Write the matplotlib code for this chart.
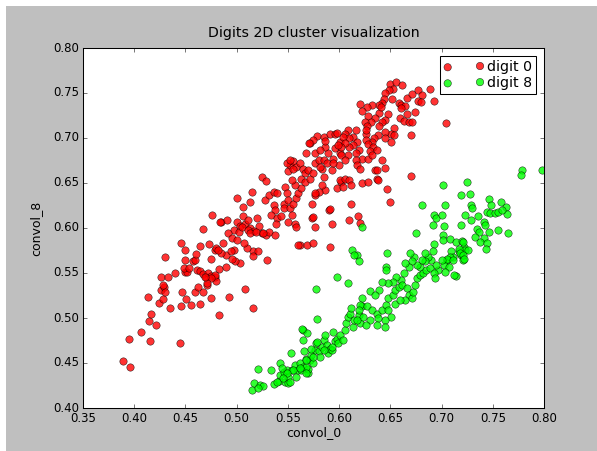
import matplotlib
matplotlib.use("Agg")
import matplotlib.pyplot as plt
from matplotlib.patches import Rectangle
from matplotlib.ticker import MultipleLocator, FormatStrFormatter

# digit 0 cluster (convol_0, convol_8)
red_x = [0.389, 0.396, 0.395, 0.415, 0.445, 0.407, 0.414, 0.421, 0.416, 0.413, 0.424, 0.428, 0.426, 0.429,
         0.430, 0.428, 0.435, 0.446, 0.455, 0.451, 0.464, 0.447, 0.459, 0.462, 0.467, 0.475, 0.483, 0.493,
         0.426, 0.433, 0.440, 0.430, 0.450, 0.452, 0.449, 0.453, 0.450, 0.457, 0.459, 0.460, 0.461, 0.464,
         0.467, 0.470, 0.472, 0.475, 0.479, 0.480, 0.471, 0.483, 0.475, 0.446, 0.450, 0.464, 0.467, 0.476,
         0.485, 0.491, 0.473, 0.479, 0.500, 0.525, 0.529, 0.515, 0.513, 0.506, 0.497, 0.500, 0.503, 0.506,
         0.508, 0.511, 0.513, 0.517, 0.520, 0.522, 0.525, 0.529, 0.532, 0.537, 0.528, 0.532, 0.536, 0.539,
         0.536, 0.537, 0.534, 0.539, 0.538, 0.543, 0.546, 0.546, 0.547, 0.549, 0.550, 0.552, 0.554, 0.550,
         0.557, 0.558, 0.555, 0.558, 0.560, 0.563, 0.557, 0.554, 0.550, 0.552, 0.555, 0.558, 0.562, 0.565,
         0.567, 0.563, 0.570, 0.567, 0.572, 0.575, 0.576, 0.580, 0.568, 0.576, 0.583, 0.585, 0.588, 0.593,
         0.594, 0.589, 0.596, 0.586, 0.581, 0.572, 0.578, 0.575, 0.585, 0.586, 0.591, 0.596, 0.601, 0.601,
         0.602, 0.598, 0.586, 0.583, 0.580, 0.576, 0.574, 0.590, 0.574, 0.576, 0.593, 0.562, 0.569, 0.575,
         0.591, 0.549, 0.650, 0.656, 0.661, 0.653, 0.649, 0.645, 0.644, 0.642, 0.639, 0.632, 0.627, 0.620,
         0.622, 0.652, 0.658, 0.660, 0.664, 0.666, 0.671, 0.677, 0.681, 0.677, 0.680, 0.689, 0.693, 0.704,
         0.674, 0.666, 0.660, 0.659, 0.663, 0.668, 0.671, 0.670, 0.670, 0.648, 0.645, 0.642, 0.639, 0.641,
         0.635, 0.628, 0.631, 0.625, 0.627, 0.639, 0.654, 0.651, 0.645, 0.638, 0.634, 0.632, 0.626, 0.626,
         0.616, 0.609, 0.606, 0.614, 0.610, 0.604, 0.598, 0.617, 0.614, 0.610, 0.606, 0.602, 0.599, 0.619,
         0.616, 0.609, 0.602, 0.626, 0.628, 0.633, 0.630, 0.637, 0.622, 0.616, 0.617, 0.620, 0.600, 0.606,
         0.628, 0.632, 0.642, 0.645, 0.635, 0.651, 0.654, 0.645, 0.601, 0.606, 0.610, 0.612, 0.604, 0.622,
         0.628, 0.637, 0.647, 0.581, 0.585, 0.594, 0.637, 0.638, 0.650, 0.612, 0.591, 0.575, 0.610, 0.618,
         0.620, 0.576, 0.484, 0.508, 0.516, 0.530, 0.516, 0.521, 0.510, 0.507, 0.516, 0.503, 0.498, 0.495,
         0.490, 0.490, 0.485, 0.480, 0.479, 0.475, 0.471, 0.469, 0.492, 0.495, 0.500, 0.502, 0.505, 0.511,
         0.513, 0.519, 0.526, 0.497, 0.494, 0.487, 0.482, 0.560, 0.571, 0.552, 0.555]
red_y = [0.452, 0.446, 0.477, 0.474, 0.472, 0.485, 0.497, 0.492, 0.504, 0.523, 0.517, 0.521, 0.531, 0.535,
         0.529, 0.537, 0.511, 0.513, 0.514, 0.521, 0.516, 0.529, 0.529, 0.534, 0.529, 0.522, 0.503, 0.523,
         0.545, 0.545, 0.550, 0.568, 0.551, 0.551, 0.556, 0.555, 0.564, 0.563, 0.564, 0.571, 0.553, 0.552,
         0.549, 0.545, 0.550, 0.547, 0.546, 0.541, 0.537, 0.554, 0.566, 0.583, 0.576, 0.580, 0.599, 0.614,
         0.607, 0.609, 0.582, 0.576, 0.633, 0.657, 0.652, 0.640, 0.629, 0.623, 0.598, 0.607, 0.602, 0.613,
         0.605, 0.609, 0.600, 0.597, 0.611, 0.602, 0.595, 0.592, 0.596, 0.592, 0.631, 0.637, 0.640, 0.639,
         0.626, 0.620, 0.614, 0.611, 0.605, 0.613, 0.627, 0.622, 0.646, 0.639, 0.631, 0.622, 0.614, 0.607,
         0.605, 0.601, 0.627, 0.633, 0.639, 0.644, 0.648, 0.653, 0.663, 0.670, 0.674, 0.668, 0.672, 0.666,
         0.661, 0.655, 0.664, 0.651, 0.655, 0.661, 0.672, 0.676, 0.683, 0.683, 0.666, 0.676, 0.672, 0.664,
         0.677, 0.683, 0.689, 0.690, 0.687, 0.694, 0.702, 0.698, 0.701, 0.697, 0.705, 0.705, 0.696, 0.683,
         0.651, 0.644, 0.642, 0.648, 0.640, 0.637, 0.627, 0.620, 0.611, 0.601, 0.604, 0.581, 0.581, 0.583,
         0.579, 0.672, 0.760, 0.762, 0.759, 0.754, 0.753, 0.750, 0.743, 0.739, 0.737, 0.737, 0.735, 0.738,
         0.730, 0.743, 0.739, 0.737, 0.736, 0.744, 0.749, 0.753, 0.748, 0.741, 0.740, 0.754, 0.741, 0.717,
         0.729, 0.727, 0.733, 0.722, 0.719, 0.718, 0.718, 0.703, 0.658, 0.727, 0.720, 0.718, 0.728, 0.735,
         0.722, 0.724, 0.718, 0.718, 0.713, 0.713, 0.711, 0.705, 0.707, 0.703, 0.700, 0.696, 0.705, 0.709,
         0.709, 0.709, 0.705, 0.701, 0.700, 0.701, 0.706, 0.696, 0.692, 0.690, 0.694, 0.690, 0.692, 0.687,
         0.683, 0.681, 0.681, 0.698, 0.693, 0.690, 0.686, 0.687, 0.677, 0.676, 0.670, 0.666, 0.670, 0.676,
         0.677, 0.681, 0.676, 0.667, 0.664, 0.696, 0.703, 0.700, 0.653, 0.655, 0.653, 0.648, 0.646, 0.650,
         0.651, 0.654, 0.643, 0.668, 0.657, 0.672, 0.664, 0.653, 0.629, 0.627, 0.621, 0.612, 0.609, 0.613,
         0.606, 0.639, 0.607, 0.532, 0.511, 0.564, 0.575, 0.575, 0.578, 0.583, 0.569, 0.561, 0.563, 0.566,
         0.557, 0.570, 0.572, 0.578, 0.548, 0.544, 0.539, 0.546, 0.594, 0.589, 0.587, 0.596, 0.601, 0.598,
         0.594, 0.596, 0.594, 0.576, 0.574, 0.583, 0.576, 0.581, 0.694, 0.676, 0.666]

# digit 8 cluster
green_x = [0.515, 0.517, 0.523, 0.526, 0.521, 0.521, 0.534, 0.536, 0.541, 0.542, 0.542, 0.546, 0.547, 0.550,
           0.550, 0.549, 0.554, 0.553, 0.557, 0.558, 0.560, 0.562, 0.565, 0.566, 0.568, 0.570, 0.570, 0.572,
           0.573, 0.575, 0.576, 0.577, 0.580, 0.581, 0.583, 0.585, 0.586, 0.588, 0.589, 0.591, 0.593, 0.594,
           0.596, 0.598, 0.599, 0.601, 0.604, 0.606, 0.607, 0.609, 0.611, 0.612, 0.614, 0.615, 0.619, 0.620,
           0.622, 0.622, 0.565, 0.569, 0.565, 0.578, 0.544, 0.564, 0.573, 0.578, 0.575, 0.568, 0.563, 0.555,
           0.549, 0.545, 0.552, 0.539, 0.568, 0.568, 0.562, 0.622, 0.693, 0.695, 0.692, 0.702, 0.675, 0.701,
           0.701, 0.708, 0.693, 0.714, 0.720, 0.722, 0.717, 0.647, 0.646, 0.617, 0.619, 0.692, 0.714, 0.709,
           0.711, 0.719, 0.721, 0.723, 0.705, 0.702, 0.707, 0.703, 0.697, 0.695, 0.690, 0.687, 0.684, 0.684,
           0.681, 0.679, 0.676, 0.673, 0.669, 0.671, 0.668, 0.664, 0.663, 0.660, 0.656, 0.653, 0.648, 0.642,
           0.639, 0.630, 0.635, 0.620, 0.627, 0.632, 0.637, 0.642, 0.646, 0.648, 0.653, 0.655, 0.658, 0.661,
           0.666, 0.668, 0.664, 0.671, 0.672, 0.674, 0.676, 0.679, 0.682, 0.685, 0.689, 0.693, 0.694, 0.655,
           0.659, 0.648, 0.651, 0.645, 0.638, 0.630, 0.623, 0.619, 0.626, 0.617, 0.637, 0.645, 0.779, 0.778,
           0.798, 0.701, 0.725, 0.719, 0.728, 0.703, 0.729, 0.730, 0.723, 0.729, 0.736, 0.746, 0.748, 0.758,
           0.763, 0.764, 0.744, 0.747, 0.752, 0.755, 0.759, 0.700, 0.719, 0.741, 0.742, 0.735, 0.737, 0.746,
           0.755, 0.741, 0.733, 0.738, 0.744, 0.743, 0.765, 0.721, 0.717, 0.726, 0.718, 0.721, 0.708, 0.705,
           0.700, 0.711, 0.722, 0.681, 0.613, 0.615, 0.598, 0.609, 0.577, 0.646, 0.712, 0.585, 0.593]
green_y = [0.420, 0.428, 0.426, 0.424, 0.422, 0.443, 0.442, 0.427, 0.430, 0.437, 0.450, 0.440, 0.429, 0.428,
           0.434, 0.442, 0.442, 0.461, 0.448, 0.434, 0.442, 0.450, 0.446, 0.463, 0.454, 0.439, 0.443, 0.453,
           0.459, 0.450, 0.464, 0.472, 0.463, 0.457, 0.468, 0.476, 0.481, 0.470, 0.461, 0.466, 0.464, 0.485,
           0.474, 0.477, 0.472, 0.481, 0.476, 0.487, 0.494, 0.501, 0.505, 0.511, 0.490, 0.498, 0.503, 0.494,
           0.513, 0.522, 0.487, 0.483, 0.476, 0.499, 0.444, 0.488, 0.466, 0.473, 0.457, 0.446, 0.442, 0.442,
           0.439, 0.433, 0.429, 0.429, 0.453, 0.439, 0.444, 0.601, 0.614, 0.611, 0.603, 0.602, 0.595, 0.592,
           0.587, 0.588, 0.582, 0.584, 0.586, 0.579, 0.574, 0.572, 0.557, 0.570, 0.563, 0.574, 0.547, 0.574,
           0.568, 0.570, 0.564, 0.576, 0.564, 0.559, 0.557, 0.551, 0.553, 0.559, 0.564, 0.568, 0.563, 0.572,
           0.564, 0.557, 0.559, 0.568, 0.572, 0.563, 0.557, 0.561, 0.550, 0.542, 0.546, 0.540, 0.539, 0.540,
           0.531, 0.530, 0.526, 0.514, 0.513, 0.509, 0.505, 0.509, 0.514, 0.522, 0.526, 0.531, 0.535, 0.537,
           0.533, 0.526, 0.520, 0.522, 0.529, 0.537, 0.544, 0.548, 0.550, 0.553, 0.555, 0.550, 0.544, 0.516,
           0.520, 0.509, 0.501, 0.498, 0.500, 0.498, 0.501, 0.509, 0.492, 0.498, 0.492, 0.490, 0.664, 0.659,
           0.664, 0.648, 0.651, 0.637, 0.638, 0.626, 0.626, 0.622, 0.615, 0.609, 0.613, 0.632, 0.626, 0.629,
           0.623, 0.616, 0.618, 0.617, 0.617, 0.618, 0.620, 0.615, 0.603, 0.607, 0.603, 0.599, 0.596, 0.596,
           0.598, 0.589, 0.590, 0.584, 0.583, 0.577, 0.595, 0.585, 0.577, 0.576, 0.572, 0.570, 0.568, 0.566,
           0.564, 0.564, 0.566, 0.626, 0.576, 0.570, 0.546, 0.539, 0.532, 0.553, 0.548, 0.464, 0.468]

plt.style.use('classic')

W, H = 597, 451
fig = plt.figure(figsize=(W / 75, H / 75), dpi=75)
fig.patch.set_facecolor('white')
fig.patches.append(Rectangle((6 / W, 0), 1 - 6 / W, 1 - 6 / H, transform=fig.transFigure,
                             facecolor='#bfbfbf', edgecolor='none', zorder=-1))

ax = fig.add_axes([83 / W, 43 / H, 461 / W, 360 / H])
ax.scatter(red_x, red_y, s=50, c='red', alpha=0.8, edgecolors='black', linewidths=0.5, label='digit 0')
ax.scatter(green_x, green_y, s=50, c='lime', alpha=0.8, edgecolors='black', linewidths=0.5, label='digit 8')

ax.set_xlim(0.35, 0.80)
ax.set_ylim(0.40, 0.80)
ax.xaxis.set_major_locator(MultipleLocator(0.05))
ax.yaxis.set_major_locator(MultipleLocator(0.05))
ax.xaxis.set_major_formatter(FormatStrFormatter('%.2f'))
ax.yaxis.set_major_formatter(FormatStrFormatter('%.2f'))
ax.tick_params(labelsize=11.3)
ax.set_xlabel('convol_0', fontsize=12, labelpad=1)
ax.set_ylabel('convol_8', fontsize=12, labelpad=10)
ax.set_title('Digits 2D cluster visualization', fontsize=13.5, pad=10.5)
ax.legend(loc='upper right', scatterpoints=2, fontsize=13.5, borderaxespad=0.6,
          borderpad=0.25, labelspacing=0.15, handlelength=2.9, handletextpad=0.2)

fig.savefig('out.png', dpi=75, facecolor=fig.get_facecolor())
